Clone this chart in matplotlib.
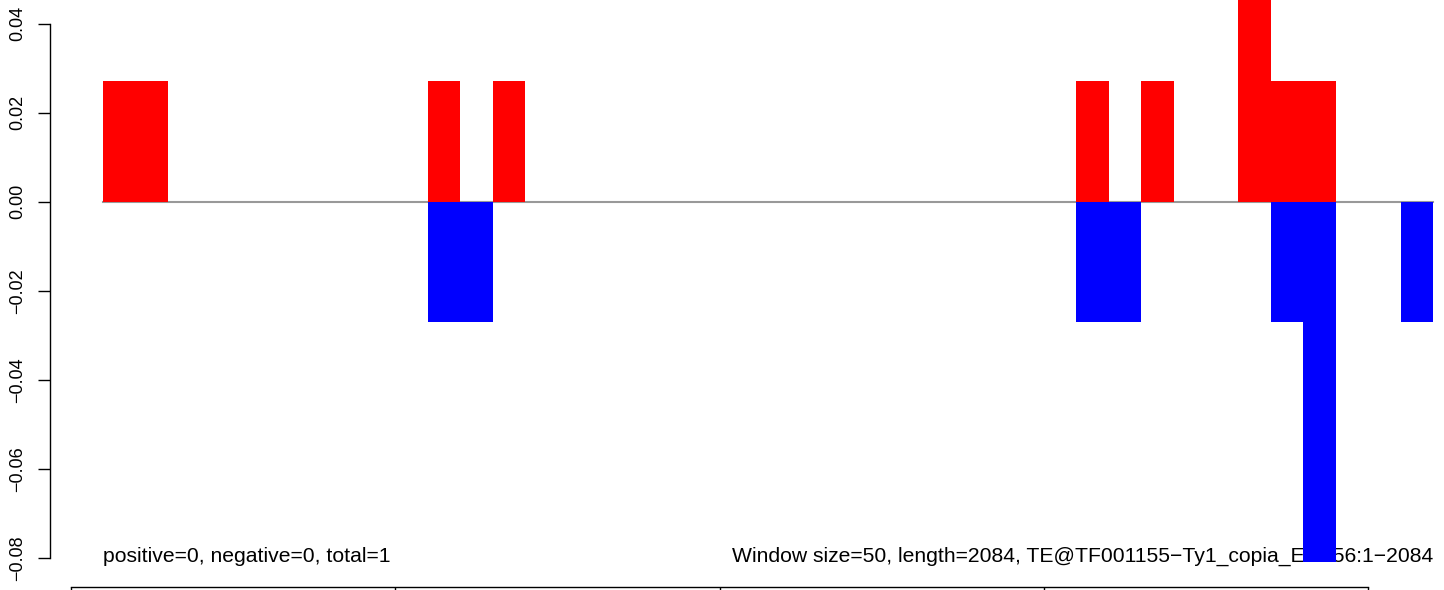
import matplotlib

matplotlib.use("Agg")
import matplotlib.pyplot as plt

plt.rcParams["font.family"] = ["Liberation Sans", "DejaVu Sans"]

# sliding windows of 50 bp along a 2084 bp element
window_start = list(range(50, 2100, 50))
positive = [0.027, 0.027, 0, 0, 0, 0, 0, 0, 0, 0,
            0.027, 0, 0.027, 0, 0, 0, 0, 0, 0, 0,
            0, 0, 0, 0, 0, 0, 0, 0, 0, 0,
            0.027, 0, 0.027, 0, 0, 0.054, 0.027, 0.027, 0, 0,
            0]
negative = [0, 0, 0, 0, 0, 0, 0, 0, 0, 0,
            -0.027, -0.027, 0, 0, 0, 0, 0, 0, 0, 0,
            0, 0, 0, 0, 0, 0, 0, 0, 0, 0,
            -0.027, -0.027, 0, 0, 0, 0, -0.027, -0.081, 0, 0,
            -0.027]
y_ticks = [0.04, 0.02, 0.00, -0.02, -0.04, -0.06, -0.08]
x_ticks = [0, 500, 1000, 1500, 2000]
left_note = "positive=0, negative=0, total=1"
right_note = "Window size=50, length=2084, TE@TF001155\u2212Ty1_copia_Ele156:1\u22122084"

W, H = 1444, 590
fig = plt.figure(figsize=(W / 100, H / 100), dpi=100)
# axes placed so the y spine sits at x=50px and the x spine at y=587px
ax = fig.add_axes([50 / W, (H - 587) / H, (W - 50) / W, 587 / H])

px_per_bp = 0.6486
ax.set_xlim(-21 / px_per_bp, (W - 71) / px_per_bp)
y_per_px = 0.12 / (558 - 24)
ax.set_ylim(-0.08 - (587 - 558) * y_per_px, 0.04 + 23.5 * y_per_px)

ax.text(window_start[0], -0.0808, left_note, ha="left", va="baseline",
        fontsize=15.2, zorder=1)
ax.text(window_start[-1] + 50, -0.0808, right_note, ha="right", va="baseline",
        fontsize=15.2, zorder=1)

ax.plot([window_start[0], window_start[-1] + 50], [0, 0], color="#999999",
        linewidth=1.5, zorder=2)
ax.bar(window_start, positive, width=50, align="edge", color="#FF0000",
       linewidth=0, antialiased=False, zorder=3)
ax.bar(window_start, negative, width=50, align="edge", color="#0000FF",
       linewidth=0, antialiased=False, zorder=3)

ax.spines["top"].set_visible(False)
ax.spines["right"].set_visible(False)
ax.spines["left"].set_bounds(-0.08, 0.04)
ax.spines["bottom"].set_bounds(0, 2000)
ax.spines["left"].set_linewidth(1.0)
ax.spines["bottom"].set_linewidth(1.0)

ax.set_yticks(y_ticks)
ax.set_yticklabels([f"{v:.2f}".replace("-", "\u2212") for v in y_ticks],
                   rotation=90, va="center", fontsize=13)
# x tick labels fall below the visible area in the reference
ax.set_xticks(x_ticks)
ax.set_xticklabels([])
ax.tick_params(axis="y", length=9, width=1.0, pad=8)
ax.tick_params(axis="x", length=9, width=1.0)

fig.savefig("out.png", dpi=100)
